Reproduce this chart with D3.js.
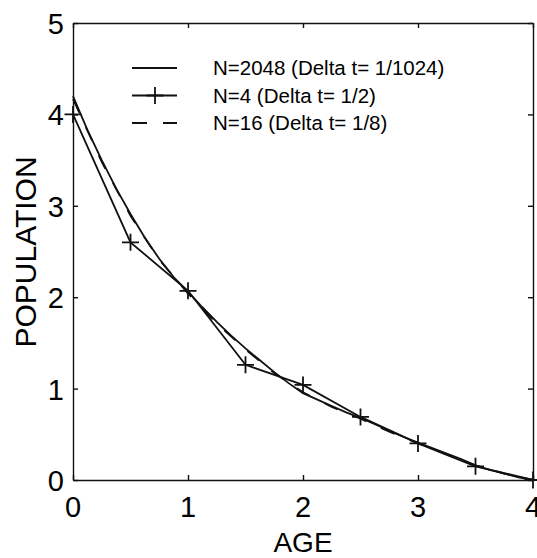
<!DOCTYPE html>
<html>
<head>
<meta charset="utf-8">
<script src="https://cdn.jsdelivr.net/npm/d3@7"></script>
<style>
  body { margin: 0; background: #fff; }
  svg { display: block; font-family: "Liberation Sans", Arial, Helvetica, sans-serif; }
  .curve { fill: none; stroke: #111; stroke-width: 1.8; }
</style>
</head>
<body>
<svg id="chart" width="537" height="558"></svg>
<script>
// ages and values
var xTicks = [0, 1, 2, 3, 4]
var yTicks = [0, 1, 2, 3, 4, 5]

var exactAge = [0, 0.125, 0.25, 0.375, 0.5, 0.625, 0.75, 0.875, 1, 1.125, 1.25, 1.375, 1.5, 1.625, 1.75, 1.875, 2,
  2.125, 2.25, 2.375, 2.5, 2.625, 2.75, 2.875, 3, 3.125, 3.25, 3.375, 3.5, 3.625, 3.75, 3.875, 4]
var exactPop = [4.20, 3.83, 3.50, 3.19, 2.91, 2.65, 2.42, 2.22, 2.06, 1.89, 1.73, 1.58, 1.44, 1.31, 1.18, 1.06, 0.95,
  0.88, 0.81, 0.74, 0.68, 0.61, 0.54, 0.47, 0.41, 0.35, 0.29, 0.23, 0.16, 0.11, 0.07, 0.03, 0]

var n4Age = [0, 0.5, 1, 1.5, 2, 2.5, 3, 3.5, 4]
var n4Pop = [4.0, 2.6, 2.07, 1.26, 1.04, 0.69, 0.40, 0.15, 0]

var n16Age = [0, 0.25, 0.5, 0.75, 1, 1.25, 1.5, 1.75, 2, 2.25, 2.5, 2.75, 3, 3.25, 3.5, 3.75, 4]
var n16Pop = [4.17, 3.48, 2.89, 2.41, 2.04, 1.71, 1.43, 1.17, 0.96, 0.80, 0.67, 0.53, 0.40, 0.28, 0.16, 0.07, 0]

var legendLabels = ['N=2048 (Delta t= 1/1024)', 'N=4 (Delta t= 1/2)', 'N=16 (Delta t= 1/8)']

var svg = d3.select('#chart')
var margin = { left: 73, right: 4, top: 23, bottom: 78 }
var width = 537 - margin.left - margin.right
var height = 558 - margin.top - margin.bottom
var g = svg.append('g').attr('transform', 'translate(' + margin.left + ',' + margin.top + ')')

var x = d3.scaleLinear().domain([0, 4]).range([0, width])
var y = d3.scaleLinear().domain([0, 5]).range([height, 0])

function zip (a, b) {
  return a.map(function (v, i) { return [v, b[i]] })
}

// frame with inward ticks on all four sides
g.append('g').attr('transform', 'translate(0,' + height + ')')
  .call(d3.axisBottom(x).tickValues(xTicks).tickSize(-5).tickSizeOuter(0).tickFormat(''))
g.append('g')
  .call(d3.axisTop(x).tickValues(xTicks).tickSize(-5).tickSizeOuter(0).tickFormat(''))
g.append('g')
  .call(d3.axisLeft(y).tickValues(yTicks).tickSize(-5).tickSizeOuter(0).tickFormat(''))
g.append('g').attr('transform', 'translate(' + width + ',0)')
  .call(d3.axisRight(y).tickValues(yTicks).tickSize(-5).tickSizeOuter(0).tickFormat(''))
g.selectAll('.domain, .tick line').attr('stroke', '#111').attr('stroke-width', 1.4)

g.selectAll('.xlab').data(xTicks).enter().append('text')
  .attr('x', function (d) { return x(d) })
  .attr('y', height + 37)
  .attr('text-anchor', 'middle')
  .attr('font-size', 29)
  .text(function (d) { return d })

g.selectAll('.ylab').data(yTicks).enter().append('text')
  .attr('x', -9)
  .attr('y', function (d) { return y(d) + 11 })
  .attr('text-anchor', 'end')
  .attr('font-size', 29)
  .text(function (d) { return d })

svg.append('text')
  .attr('x', margin.left + x(2))
  .attr('y', 552)
  .attr('text-anchor', 'middle')
  .attr('font-size', 28)
  .text('AGE')

svg.append('text')
  .attr('transform', 'translate(36,252) rotate(-90)')
  .attr('text-anchor', 'middle')
  .attr('font-size', 30)
  .text('POPULATION')

var line = d3.line().x(function (d) { return x(d[0]) }).y(function (d) { return y(d[1]) })

g.append('path').attr('class', 'curve').attr('d', line(zip(exactAge, exactPop)))
g.append('path').attr('class', 'curve').attr('stroke-dasharray', '15,16').attr('d', line(zip(n16Age, n16Pop)))
g.append('path').attr('class', 'curve').attr('d', line(zip(n4Age, n4Pop)))

var plus = d3.symbol().type(function () {
  return {
    draw: function (ctx, size) {
      var r = 8.5
      ctx.moveTo(-r, 0); ctx.lineTo(r, 0)
      ctx.moveTo(0, -r); ctx.lineTo(0, r)
    }
  }
}())

g.selectAll('.mark').data(zip(n4Age, n4Pop)).enter().append('path')
  .attr('class', 'curve')
  .attr('transform', function (d) { return 'translate(' + x(d[0]) + ',' + y(d[1]) + ')' })
  .attr('d', plus)

// legend
var legend = svg.append('g').attr('transform', 'translate(132,68)')
var rows = legend.selectAll('.row').data(legendLabels).enter().append('g')
  .attr('transform', function (d, i) { return 'translate(0,' + (i * 27.5) + ')' })
rows.append('line')
  .attr('class', 'curve')
  .attr('x1', 0).attr('x2', 45).attr('y1', 0).attr('y2', 0)
  .attr('stroke-dasharray', function (d, i) { return i === 2 ? '15,16' : null })
rows.filter(function (d, i) { return i === 1 }).append('path')
  .attr('class', 'curve')
  .attr('transform', 'translate(23,0)')
  .attr('d', plus)
rows.append('text')
  .attr('x', 81)
  .attr('y', 7)
  .attr('font-size', 20.5)
  .text(function (d) { return d })
</script>
</body>
</html>
